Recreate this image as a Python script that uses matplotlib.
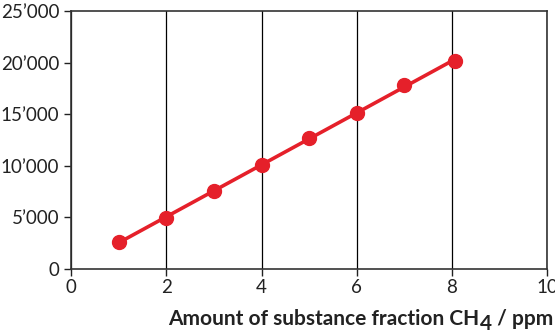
import numpy as np
import matplotlib.pyplot as plt
from matplotlib.ticker import FuncFormatter

plt.rcParams["font.family"] = ["Lato", "DejaVu Sans"]

# Data
x_ppm = [1, 2, 3, 4, 5, 6, 7, 8.07]
signal = [2600, 4900, 7550, 10100, 12700, 15100, 17850, 20150]

red = "#e5202a"
dark = "#222222"

fig = plt.figure(figsize=(5.55, 3.34), dpi=100)
ax = fig.add_axes([0.128, 0.195, 0.858, 0.772])

# Linear fit line
k, d = np.polyfit(x_ppm, signal, 1)
xl = np.array([min(x_ppm), max(x_ppm)])
ax.plot(xl, k * xl + d, color=red, lw=2.6, zorder=3)
ax.plot(x_ppm, signal, "o", color=red, ms=10, zorder=4)

ax.set_xlim(0, 10)
ax.set_ylim(0, 25000)
ax.set_xticks([0, 2, 4, 6, 8, 10])
ax.set_yticks([0, 5000, 10000, 15000, 20000, 25000])
ax.yaxis.set_major_formatter(FuncFormatter(lambda v, p: f"{int(v):,}".replace(",", "\u2019")))

ax.grid(axis="x", color="black", lw=0.9)
for s in ax.spines.values():
    s.set_color("#333333")
    s.set_linewidth(1.2)
ax.tick_params(axis="both", labelsize=13.5, colors=dark, length=5, width=1)
ax.tick_params(axis="x", pad=2)

# x label built from pieces so the subscript can be large, right-aligned
lab = dict(fontsize=15, fontweight="bold", color=dark)
t3 = ax.text(1.012, -0.235, " / ppm", transform=ax.transAxes, ha="right", va="bottom", **lab)
t2 = ax.annotate("4", xy=(0, 0), xycoords=t3, xytext=(0, -3.5), textcoords="offset points",
                 ha="right", va="bottom", **lab)
t1 = ax.annotate("Amount of substance fraction CH", xy=(0, 0), xycoords=t2,
                 xytext=(0, 3.5), textcoords="offset points", ha="right", va="bottom", **lab)

fig.savefig("out.png", dpi=100)
